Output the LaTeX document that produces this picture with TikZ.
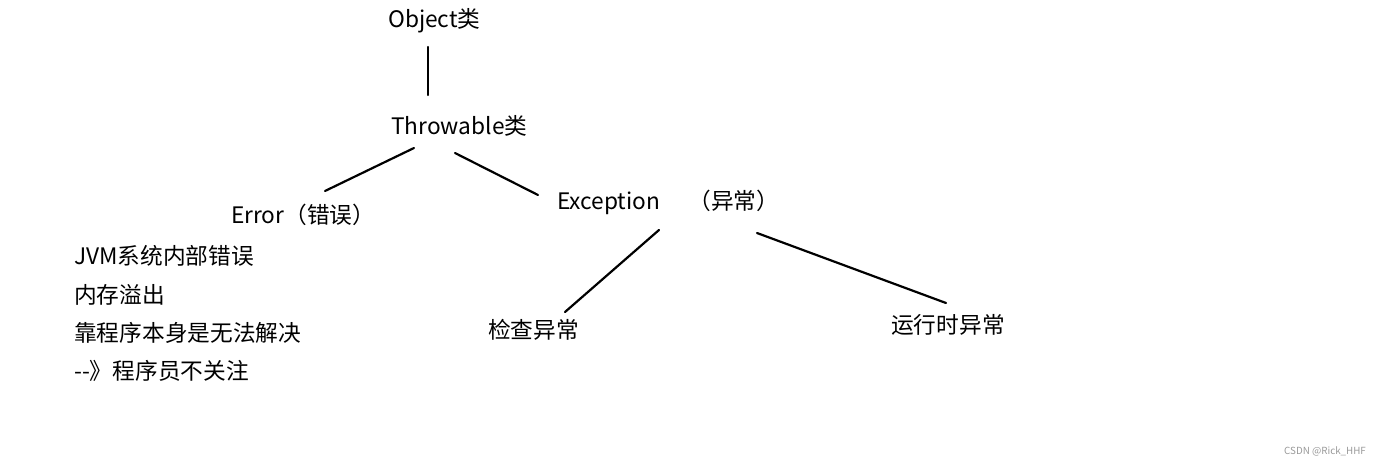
\documentclass[tikz,border=0pt]{standalone}
\usepackage{fontspec}
\setmainfont{Noto Sans CJK SC}
\begin{document}
\begin{tikzpicture}[x=1pt,y=-1pt,
  lbl/.style={anchor=west,inner sep=0pt,font=\fontsize{22.7}{27}\selectfont},
  edge/.style={line width=2.2pt,line cap=round}]
\useasboundingbox (0,0) rectangle (1381,468);
\node[lbl] (obj) at (388,21) {Object类};
\node[lbl] (thr) at (391,126) {Throwable类};
\node[lbl] (err) at (231,215) {Error（错误）};
\node[lbl] (exc) at (557,202) {Exception\hspace{28pt}（异常）};
\node[lbl] (chk) at (488,330) {检查异常};
\node[lbl] (run) at (891,325) {运行时异常};
\node[lbl] (l1) at (74,256) {JVM系统内部错误};
\node[lbl] (l2) at (74,295) {内存溢出};
\node[lbl] (l3) at (74,333) {靠程序本身是无法解决};
\node[lbl] (l4) at (74,371) {-{}-》程序员不关注};
\node[anchor=east,inner sep=0pt,text=gray!80,font=\fontsize{9.8}{12}\selectfont] (wm) at (1366,451) {CSDN @Rick\_HHF};
\coordinate (a1) at (428,47);  \coordinate (a2) at (428,95);
\coordinate (b1) at (414,148); \coordinate (b2) at (325,191);
\coordinate (c1) at (455,153); \coordinate (c2) at (538,195);
\coordinate (d1) at (659,230); \coordinate (d2) at (565,312);
\coordinate (e1) at (757,233); \coordinate (e2) at (946,303);
\draw[edge] (a1) -- (a2);
\draw[edge] (b1) -- (b2);
\draw[edge] (c1) -- (c2);
\draw[edge] (d1) -- (d2);
\draw[edge] (e1) -- (e2);
\end{tikzpicture}
\end{document}
